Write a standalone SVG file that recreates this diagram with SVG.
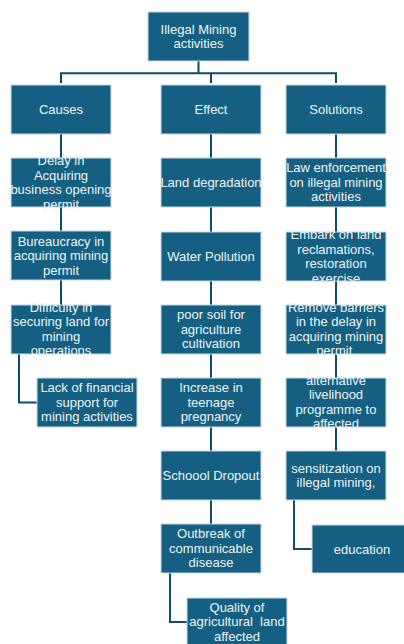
<svg xmlns="http://www.w3.org/2000/svg" width="404" height="644" viewBox="0 0 404 644">
<style>
.b{fill:#156082;stroke:#c8d9e3;stroke-width:1}
.t{font-family:"Liberation Sans",Arial,sans-serif;font-size:13px;fill:#eef3f6;text-anchor:middle}
.c{fill:none;stroke:#0f4c69;stroke-width:2}
</style>
<rect width="404" height="644" fill="#ffffff"/>
<g id="connectors">
<path class="c" d="M198.5 61V73.3M61 83V73.3H336V83M211 73.3V83"/>
<path class="c" d="M61 134V158M61 207V231M61 280V305M19 354V402.5H37"/>
<path class="c" d="M211 134V158M211 207V232M211 281V305M211 354V378M211 427V451M211 500V524M170 573V622H187"/>
<path class="c" d="M336 134V158M336 207V232M336 281V305M336 354V378M336 427V451M294 500V549H312"/>
</g>
<g id="top"><rect class="b" x="148" y="12" width="101" height="49"/><text class="t" x="198.5" y="33.8">Illegal Mining</text><text class="t" x="198.5" y="48.3">activities</text></g>
<g id="causes"><rect class="b" x="11" y="85" width="100" height="49"/><text class="t" x="61" y="114">Causes</text></g>
<g id="effect"><rect class="b" x="161" y="85" width="100" height="49"/><text class="t" x="211" y="114">Effect</text></g>
<g id="solutions"><rect class="b" x="286" y="85" width="100" height="49"/><text class="t" x="336" y="114">Solutions</text></g>

<g id="delay"><rect class="b" x="11" y="158" width="100" height="49"/><text class="t" x="61" y="165.2">Delay in</text><text class="t" x="61" y="179.7">Acquiring</text><text class="t" x="61" y="194.2">business opening</text><text class="t" x="61" y="208.7">permit</text></g>
<g id="bureaucracy"><rect class="b" x="11" y="231" width="100" height="49"/><text class="t" x="61" y="245.5">Bureaucracy in</text><text class="t" x="61" y="260">acquiring mining</text><text class="t" x="61" y="274.5">permit</text></g>
<g id="difficulty"><rect class="b" x="11" y="305" width="100" height="49"/><text class="t" x="61" y="311.8">Difficulty in</text><text class="t" x="61" y="326.3">securing land for</text><text class="t" x="61" y="340.8">mining</text><text class="t" x="61" y="355.3">operations</text></g>
<g id="lack"><rect class="b" x="37" y="378" width="100" height="49"/><text class="t" x="87" y="392">Lack of financial</text><text class="t" x="87" y="406.5">support for</text><text class="t" x="87" y="421">mining activities</text></g>

<g id="land"><rect class="b" x="161" y="158" width="100" height="49"/><text class="t" x="211" y="187">Land degradation</text></g>
<g id="water"><rect class="b" x="161" y="232" width="100" height="49"/><text class="t" x="211" y="261">Water Pollution</text></g>
<g id="soil"><rect class="b" x="161" y="305" width="100" height="49"/><text class="t" x="211" y="319">poor soil for</text><text class="t" x="211" y="333.5">agriculture</text><text class="t" x="211" y="348">cultivation</text></g>
<g id="pregnancy"><rect class="b" x="161" y="378" width="100" height="49"/><text class="t" x="211" y="392">Increase in</text><text class="t" x="211" y="406.5">teenage</text><text class="t" x="211" y="421">pregnancy</text></g>
<g id="dropout"><rect class="b" x="161" y="451" width="100" height="49"/><text class="t" x="211" y="480">Schoool Dropout</text></g>
<g id="outbreak"><rect class="b" x="161" y="524" width="100" height="49"/><text class="t" x="211" y="538">Outbreak of</text><text class="t" x="211" y="552.5">communicable</text><text class="t" x="211" y="567">disease</text></g>
<g id="quality"><rect class="b" x="187" y="598" width="100" height="49"/><text class="t" x="237" y="611.5">Quality of</text><text class="t" x="237" y="626" xml:space="preserve">agricultural  land</text><text class="t" x="237" y="640.5">affected</text></g>

<g id="law"><rect class="b" x="286" y="158" width="100" height="49"/><text class="t" x="336" y="172">Law enforcement</text><text class="t" x="336" y="186.5">on illegal mining</text><text class="t" x="336" y="201">activities</text></g>
<g id="embark"><rect class="b" x="286" y="232" width="100" height="49"/><text class="t" x="336" y="239">Embark on land</text><text class="t" x="336" y="253.5">reclamations,</text><text class="t" x="336" y="268">restoration</text><text class="t" x="336" y="282.5">exercise</text></g>
<g id="remove"><rect class="b" x="286" y="305" width="100" height="49"/><text class="t" x="336" y="311.8">Remove barriers</text><text class="t" x="336" y="326.3">in the delay in</text><text class="t" x="336" y="340.8">acquiring mining</text><text class="t" x="336" y="355.3">permit.</text></g>
<g id="livelihood"><rect class="b" x="286" y="378" width="100" height="49"/><text class="t" x="336" y="384.8">alternative</text><text class="t" x="336" y="399.3">livelihood</text><text class="t" x="336" y="413.8">programme to</text><text class="t" x="336" y="428.3">affected</text></g>
<g id="sensitization"><rect class="b" x="286" y="451" width="100" height="49"/><text class="t" x="336" y="472.8">sensitization on</text><text class="t" x="336" y="487.3">illegal mining,</text></g>
<g id="education"><rect class="b" x="312" y="525" width="100" height="48"/><text class="t" x="362" y="553.5">education</text></g>
</svg>
